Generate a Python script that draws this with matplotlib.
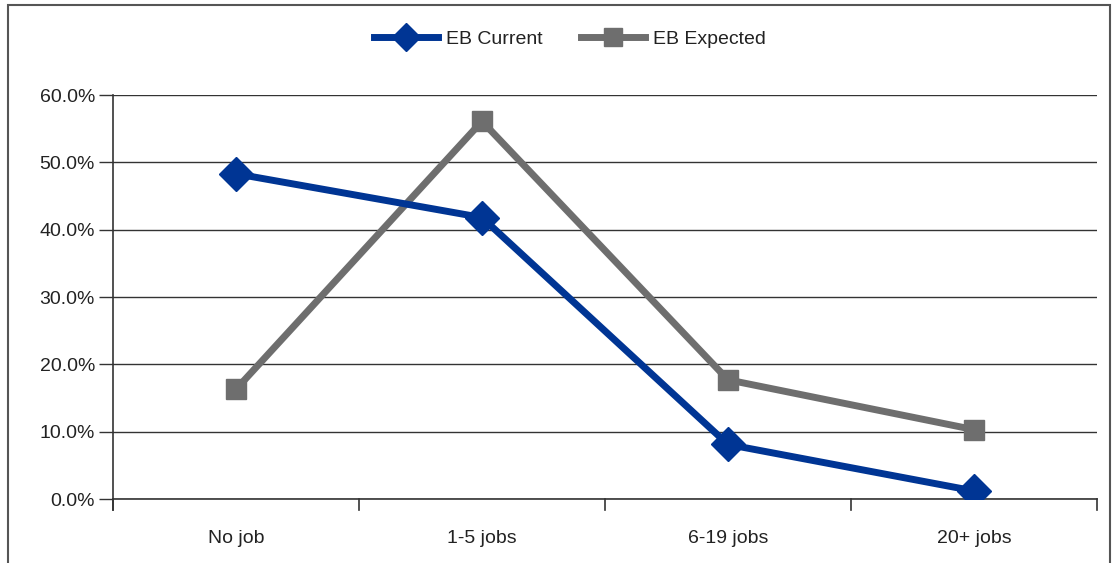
import matplotlib.pyplot as plt
from matplotlib.patches import Rectangle

# data
categories = ["No job", "1-5 jobs", "6-19 jobs", "20+ jobs"]
eb_current = [48.3, 41.8, 8.1, 1.2]
eb_expected = [16.3, 56.1, 17.7, 10.3]
yticks = [0, 10, 20, 30, 40, 50, 60]

plt.rcParams['font.family'] = ['Liberation Sans', 'DejaVu Sans']

W, H = 1116, 563
fig = plt.figure(figsize=(W / 100, H / 100), dpi=100)
# outer frame
fig.patches.append(Rectangle((8 / W, -0.05), (1110 - 8) / W, 1.05 - 5 / H,
                             transform=fig.transFigure, fill=False,
                             edgecolor="#555555", lw=1.5))

ax = fig.add_axes([113 / W, 1 - 499 / H, (1097 - 113) / W, (499 - 95) / H])

x = list(range(len(categories)))
blue = "#003594"
grey = "#6e6e6e"
ax.plot(x, eb_current, color=blue, lw=5, marker="D", ms=17,
        label="EB Current", zorder=4)
ax.plot(x, eb_expected, color=grey, lw=5, marker="s", ms=14.5,
        label="EB Expected", zorder=3)

ax.set_xlim(-0.5, len(categories) - 0.5)
ax.set_ylim(0, 60)
ax.set_yticks(yticks)
ax.set_yticklabels([f"{v:.1f}%" for v in yticks])
ax.yaxis.grid(True, color="#333333", lw=1)
ax.set_axisbelow(True)

# category labels centred, tick marks at the boundaries
ax.set_xticks(x)
ax.set_xticklabels(categories)
ax.tick_params(axis="x", length=0, pad=22, labelsize=14, labelcolor="#222222")
for b in [i - 0.5 for i in range(len(categories) + 1)]:
    ax.plot([b, b], [0, -1.6], color="#333333", lw=1.2, clip_on=False, zorder=2)

ax.tick_params(axis="y", length=10, width=1, color="#333333",
               labelsize=14, labelcolor="#222222", pad=3)

for s in ["top", "right"]:
    ax.spines[s].set_visible(False)
ax.spines["left"].set_color("#333333")
ax.spines["bottom"].set_color("#333333")
ax.spines["left"].set_bounds(-1.6, 60)
ax.spines["left"].set_linewidth(1.2)
ax.spines["bottom"].set_linewidth(1.2)

fig.legend(loc="center", bbox_to_anchor=(570 / W, 1 - 39 / H), ncol=2,
           frameon=False, fontsize=14, handlelength=3.3, columnspacing=2.0,
           handletextpad=0.4, labelcolor="#222222", markerscale=0.85)

fig.savefig("out.png", dpi=100)
